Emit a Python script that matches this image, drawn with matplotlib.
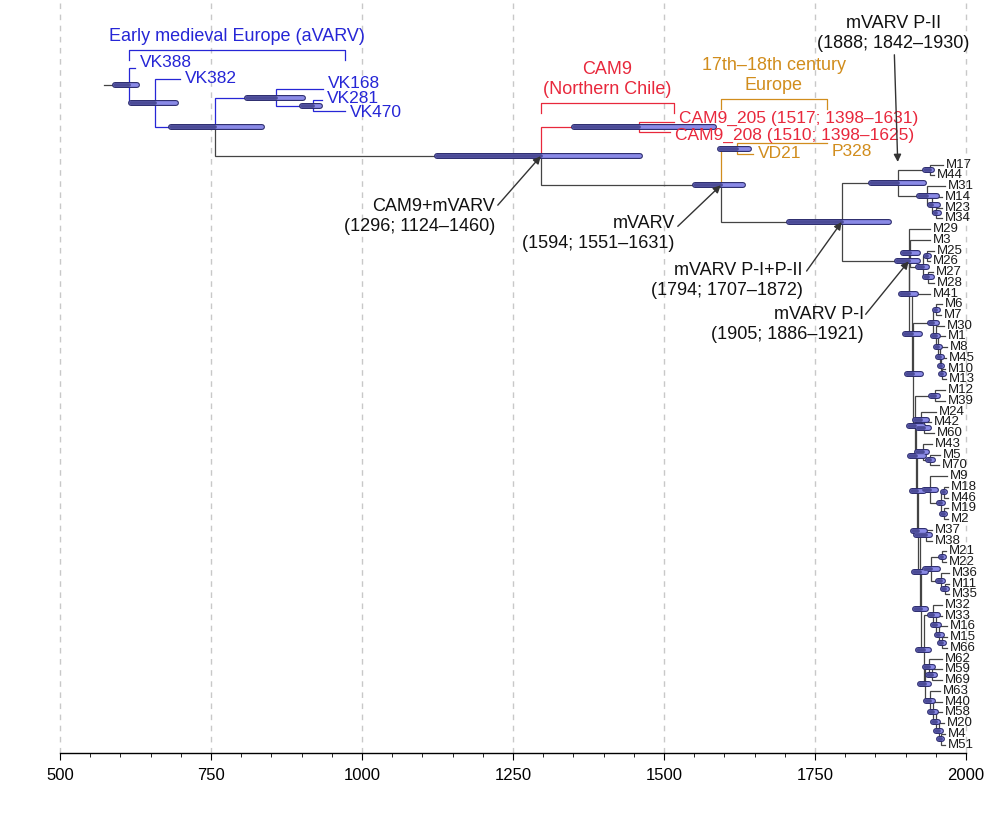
import matplotlib.pyplot as plt
from matplotlib.ticker import FixedLocator

plt.rcParams['font.family'] = ['Liberation Sans', 'DejaVu Sans']

# tips, top to bottom, with sampling year
tip_names = ["VK388", "VK382", "VK168", "VK281", "VK470",
             "CAM9_205", "CAM9_208", "P328", "VD21",
             "M17", "M44", "M31", "M14", "M23", "M34",
             "M29", "M3", "M25", "M26", "M27", "M28", "M41",
             "M6", "M7", "M30", "M1", "M8", "M45", "M10", "M13",
             "M12", "M39", "M24", "M42", "M60", "M43", "M5", "M70",
             "M9", "M18", "M46", "M19", "M2", "M37", "M38",
             "M21", "M22", "M36", "M11", "M35",
             "M32", "M33", "M16", "M15", "M66", "M62", "M59", "M69",
             "M63", "M40", "M58", "M20", "M4", "M51"]
tip_years = [624, 699, 935, 934, 972,
             1517, 1510, 1770, 1647,
             1962, 1947, 1965, 1960, 1960, 1960,
             1940, 1940, 1947, 1940, 1945, 1947, 1940,
             1960, 1959, 1963, 1965, 1968, 1967, 1965, 1967,
             1965, 1965, 1950, 1942, 1947, 1944, 1957, 1955,
             1968, 1970, 1970, 1970, 1970, 1944, 1944,
             1967, 1967, 1972, 1972, 1972,
             1960, 1960, 1968, 1968, 1968, 1960, 1960, 1960,
             1957, 1960, 1960, 1963, 1965, 1965]
tip_labels = {"CAM9_205": "CAM9_205 (1517; 1398–1631)",
              "CAM9_208": "CAM9_208 (1510; 1398–1625)"}

# internal nodes: name, children, age, 95% HPD
node_names = ["root", "n2", "n3", "n4", "n5", "cam_mvarv", "cam9", "mvarv",
              "europe", "p12", "p2", "m17_44", "q1", "q2", "q3",
              "p1", "b1", "s1", "s1b", "s1c", "s1d", "b2", "b3",
              "s3", "s3a", "s3b", "s3c", "s3d", "s3e", "s3f",
              "b4", "s4", "b5", "s5", "s5b", "b6", "s6", "s6b",
              "b7", "s7", "s7b", "s7c", "s7d", "b8", "s8",
              "b9", "s9", "s9a", "s9b", "s9c",
              "b10", "s10", "s10b", "s10c", "s10d",
              "b11", "s11", "s11b", "s12", "s12b", "s12c", "s12d", "s12e"]
node_children = [["VK388", "n2"], ["VK382", "n3"], ["n4", "cam_mvarv"],
                 ["VK168", "n5"], ["VK281", "VK470"], ["cam9", "mvarv"],
                 ["CAM9_205", "CAM9_208"], ["europe", "p12"],
                 ["P328", "VD21"], ["p2", "p1"], ["m17_44", "q1"],
                 ["M17", "M44"], ["M31", "q2"], ["M14", "q3"], ["M23", "M34"],
                 ["M29", "b1"], ["s1", "b2"], ["M3", "s1b"], ["s1c", "s1d"],
                 ["M25", "M26"], ["M27", "M28"], ["M41", "b3"], ["s3", "b4"],
                 ["s3a", "s3b"], ["M6", "M7"], ["M30", "s3c"], ["M1", "s3d"],
                 ["M8", "s3e"], ["M45", "s3f"], ["M10", "M13"],
                 ["s4", "b5"], ["M12", "M39"], ["s5", "b6"], ["M24", "s5b"],
                 ["M42", "M60"], ["s6", "b7"], ["M43", "s6b"], ["M5", "M70"],
                 ["s7", "b8"], ["M9", "s7b"], ["s7c", "s7d"], ["M18", "M46"],
                 ["M19", "M2"], ["s8", "b9"], ["M37", "M38"],
                 ["s9", "b10"], ["s9a", "s9b"], ["M21", "M22"], ["M36", "s9c"],
                 ["M11", "M35"],
                 ["s10", "b11"], ["M32", "s10b"], ["M33", "s10c"],
                 ["M16", "s10d"], ["M15", "M66"],
                 ["s11", "s12"], ["M62", "s11b"], ["M59", "M69"],
                 ["M63", "s12b"], ["M40", "s12c"], ["M58", "s12d"],
                 ["M20", "s12e"], ["M4", "M51"]]
node_ages = [614, 657, 757, 858, 919, 1296, 1459, 1594,
             1621, 1794, 1888, 1940, 1935, 1944, 1951,
             1905, 1906, 1908, 1929, 1936, 1937, 1910, 1913,
             1945, 1951, 1950, 1953, 1957, 1959, 1961,
             1915, 1948, 1917, 1925, 1930, 1919, 1928, 1941,
             1921, 1940, 1958, 1964, 1963, 1923, 1934,
             1925, 1942, 1961, 1958, 1965,
             1930, 1946, 1950, 1956, 1960,
             1932, 1938, 1944, 1940, 1946, 1950, 1955, 1958]
node_lo = [591, 618, 684, 810, 901, 1124, 1351, 1551,
           1593, 1707, 1842, 1932, 1922, 1940, 1948,
           1886, 1893, 1895, 1921, 1933, 1932, 1899, 1902,
           1940, 1949, 1946, 1950, 1954, 1957, 1959,
           1905, 1942, 1908, 1916, 1921, 1910, 1919, 1937,
           1912, 1930, 1955, 1962, 1961, 1914, 1917,
           1916, 1932, 1958, 1954, 1962,
           1920, 1940, 1946, 1952, 1957,
           1924, 1932, 1937, 1934, 1941, 1946, 1951, 1956]
node_hi = [627, 692, 834, 902, 930, 1460, 1583, 1631,
           1641, 1872, 1930, 1944, 1952, 1953, 1955,
           1921, 1918, 1920, 1936, 1939, 1944, 1924, 1926,
           1952, 1954, 1953, 1957, 1960, 1961, 1963,
           1928, 1954, 1930, 1935, 1938, 1930, 1936, 1946,
           1932, 1951, 1962, 1966, 1966, 1933, 1941,
           1934, 1953, 1964, 1962, 1968,
           1938, 1953, 1956, 1960, 1963,
           1939, 1945, 1948, 1946, 1950, 1954, 1958, 1961]
root_stem_start = 573

blue_set = {"n2", "n3", "n4", "n5", "VK388", "VK382", "VK168", "VK281", "VK470"}
red_set = {"cam9", "CAM9_205", "CAM9_208"}
orange_set = {"europe", "P328", "VD21"}

BLUE = '#2626d6'
RED = '#e8283c'
ORANGE = '#d18d1d'
DARK = '#444444'


def colour(n):
    if n in blue_set:
        return BLUE
    if n in red_set:
        return RED
    if n in orange_set:
        return ORANGE
    return DARK


# positions
xpos = dict(zip(tip_names, tip_years))
xpos.update(dict(zip(node_names, node_ages)))
ypos = {n: i for i, n in enumerate(tip_names)}
children = dict(zip(node_names, node_children))


def get_y(n):
    if n not in ypos:
        ypos[n] = sum(get_y(c) for c in children[n]) / len(children[n])
    return ypos[n]


get_y("root")

fig = plt.figure(figsize=(9.92, 8.14), dpi=100)
ax = fig.add_axes([0, 61 / 814, 1, 753 / 814])
ax.set_xlim(400.7, 2043.0)
ax.set_ylim((753 - 68) / 10.74, -68 / 10.74)

# branches
ax.plot([root_stem_start, xpos["root"]], [ypos["root"]] * 2, color=DARK, lw=0.9, zorder=2)
for n in node_names:
    for c in children[n]:
        ax.plot([xpos[n], xpos[n], xpos[c]], [ypos[n], ypos[c], ypos[c]],
                color=colour(c), lw=0.9, zorder=2, solid_joinstyle='miter')

# HPD bars
for n, a, lo, hi in zip(node_names, node_ages, node_lo, node_hi):
    y = ypos[n]
    ax.plot([lo, hi], [y, y], color='#2d2d6e', lw=4.3, solid_capstyle='round', zorder=3)
    ax.plot([lo, hi], [y, y], color='#8a8ae6', lw=2.7, solid_capstyle='round', zorder=4)
    ax.plot([lo, a], [y, y], color='#4b4b96', lw=2.7, solid_capstyle='round', zorder=4)

# tip labels
nudge = {"VK388": 5, "VK168": 6, "VK281": 2, "VK470": -2,
         "CAM9_205": 3, "CAM9_208": -3, "P328": -8}
for n in tip_names:
    big = not n.startswith("M")
    ax.annotate(tip_labels.get(n, n), (xpos[n], ypos[n]),
                xytext=(5 if big else 3, nudge.get(n, 0)), textcoords='offset pixels',
                ha='left', va='center', fontsize=12.5 if big else 9.5,
                color=colour(n) if big else '#1a1a1a', zorder=5)


# clade brackets
def bracket(x0, x1, y, text, col):
    ydrop = y + 10 / 10.74
    ax.plot([x0, x0, x1, x1], [ydrop, y, y, ydrop], color=col, lw=0.9, zorder=2)
    ax.annotate(text, ((x0 + x1) / 2, y), xytext=(0, 5), textcoords='offset pixels',
                ha='center', va='bottom', fontsize=13, color=col, linespacing=1.25)


bracket(xpos["root"], xpos["VK470"], (50 - 68) / 10.74, "Early medieval Europe (aVARV)", BLUE)
bracket(xpos["cam_mvarv"], xpos["CAM9_205"], (103 - 68) / 10.74, "CAM9\n(Northern Chile)", RED)
bracket(xpos["mvarv"], xpos["P328"], (99 - 68) / 10.74, "17th–18th century\nEurope", ORANGE)

# node annotations
notes = [("cam_mvarv", "CAM9+mVARV\n(1296; 1124–1460)", (-43, -49), (-46, -42)),
         ("mvarv", "mVARV\n(1594; 1551–1631)", (-43, -41), (-46, -30)),
         ("p12", "mVARV P-I+P-II\n(1794; 1707–1872)", (-35, -49), (-39, -40)),
         ("p1", "mVARV P-I\n(1905; 1886–1921)", (-43, -53), (-45, -45))]
for n, text, tail, toff in notes:
    xy = (xpos[n], ypos[n])
    ax.annotate("", xy=xy, xytext=tail, textcoords='offset pixels',
                arrowprops=dict(arrowstyle='-|>', color='#333333', lw=1,
                                mutation_scale=11, shrinkA=0, shrinkB=0),
                zorder=6)
    ax.annotate(text, xy, xytext=toff, textcoords='offset pixels',
                ha='right', va='top', fontsize=13, color='#111111',
                multialignment='right', linespacing=1.2, zorder=6)

xy = (xpos["p2"], ypos["p2"])
ax.annotate("", xy=xy, xytext=(-4, 128), textcoords='offset pixels',
            arrowprops=dict(arrowstyle='-|>', color='#333333', lw=1,
                            mutation_scale=11, shrinkA=0, shrinkB=15),
            zorder=6)
ax.annotate("mVARV P-II\n(1888; 1842–1930)", xy, xytext=(-5, 131), textcoords='offset pixels',
            ha='center', va='bottom', fontsize=13, color='#111111', linespacing=1.2)

# axis
for s in ['top', 'left', 'right']:
    ax.spines[s].set_visible(False)
ax.spines['bottom'].set_bounds(500, 2000)
ax.spines['bottom'].set_linewidth(1)
ax.set_yticks([])
ax.xaxis.set_major_locator(FixedLocator(range(500, 2001, 250)))
ax.xaxis.set_minor_locator(FixedLocator(range(500, 2001, 50)))
ax.tick_params(axis='x', which='major', length=5, labelsize=12, pad=6)
ax.tick_params(axis='x', which='minor', length=3)
ax.grid(axis='x', which='major', color='#c8c8c8', ls=(0, (4, 4)), lw=1, zorder=0)

fig.savefig("out.png", dpi=100)
